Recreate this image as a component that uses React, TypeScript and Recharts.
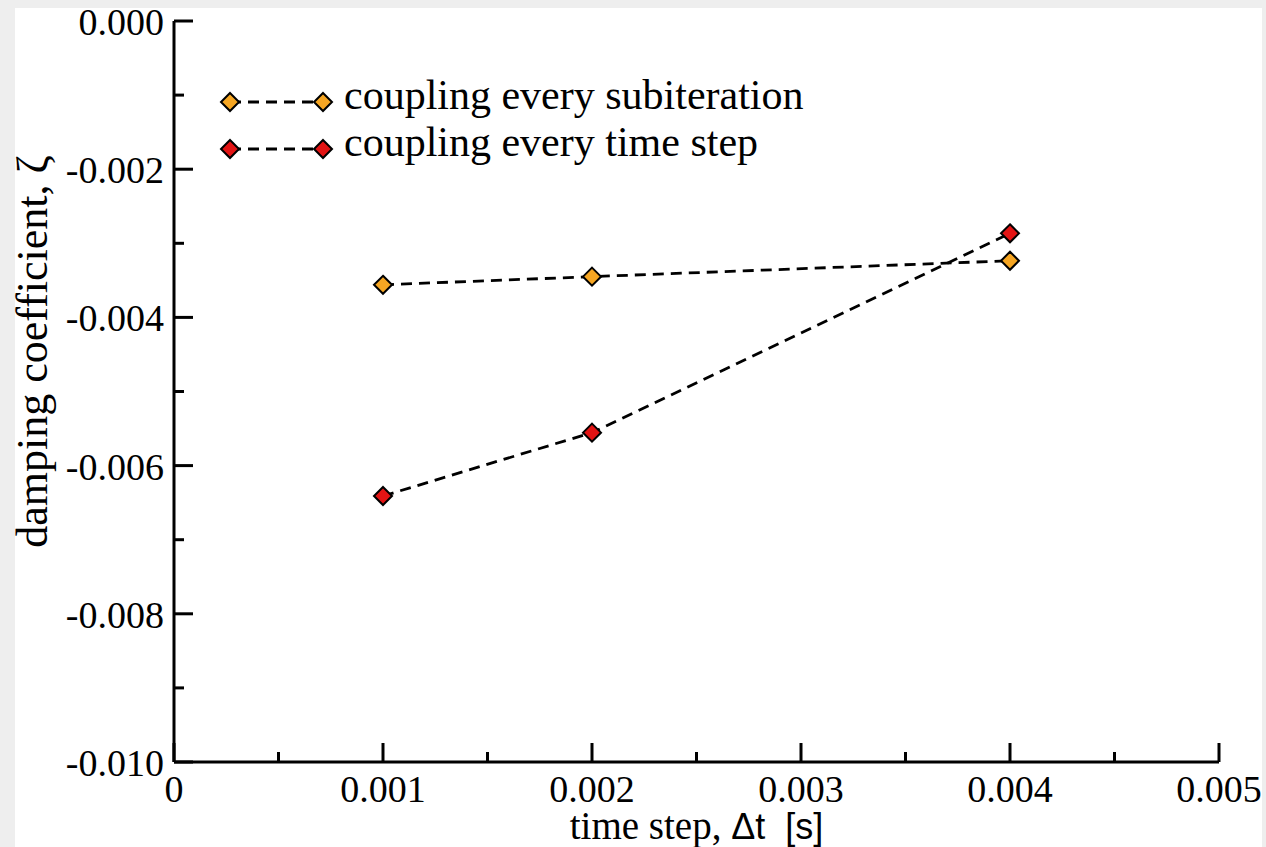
import { LineChart, Line, XAxis, YAxis, Legend } from "recharts";

const timeSteps = [0.001, 0.002, 0.004];
const subiterationZeta = [-0.00356, -0.00345, -0.003235];
const timeStepZeta = [-0.00641, -0.005555, -0.002865];

const xMajorTicks = [0, 0.001, 0.002, 0.003, 0.004, 0.005];
const xMinorTicks = [0.0005, 0.0015, 0.0025, 0.0035, 0.0045];
const xTickLabels = ["0", "0.001", "0.002", "0.003", "0.004", "0.005"];

const yMajorTicks = [0, -0.002, -0.004, -0.006, -0.008, -0.01];
const yMinorTicks = [-0.001, -0.003, -0.005, -0.007, -0.009];
const yTickLabels = ["0.000", "-0.002", "-0.004", "-0.006", "-0.008", "-0.010"];

const seriesNames = ["coupling every subiteration", "coupling every time step"];
const seriesColors = ["#f6a623", "#e31414"];

const data = timeSteps.map((t, i) => ({
  t,
  sub: subiterationZeta[i],
  step: timeStepZeta[i],
}));

const SERIF = '"Liberation Serif", "Times New Roman", serif';
const SANS = '"Liberation Sans", Arial, sans-serif';
const MAJOR = 19;
const MINOR = 10;
const AXIS_W = 3;

const majorIndex = (list: number[], v: number) =>
  list.findIndex((m) => Math.abs(m - v) < 1e-9);

function Diamond({ cx, cy, fill }: { cx: number; cy: number; fill: string }) {
  const r = 9;
  return (
    <path
      d={`M${cx},${cy - r}L${cx + r},${cy}L${cx},${cy + r}L${cx - r},${cy}Z`}
      fill={fill}
      stroke="#000"
      strokeWidth={2}
    />
  );
}

function BottomTick({ x, y, payload }: any) {
  const i = majorIndex(xMajorTicks, payload.value);
  const len = i >= 0 ? MAJOR : MINOR;
  return (
    <g>
      <line x1={x} y1={y} x2={x} y2={y - len} stroke="#000" strokeWidth={AXIS_W} />
      {i >= 0 && (
        <text x={x} y={y + 40} textAnchor="middle" fontFamily={SERIF} fontSize={38} fill="#000">
          {xTickLabels[i]}
        </text>
      )}
    </g>
  );
}

function TopTick({ x, y, payload }: any) {
  const len = majorIndex(xMajorTicks, payload.value) >= 0 ? MAJOR : MINOR;
  return <line x1={x} y1={y} x2={x} y2={y + len} stroke="#000" strokeWidth={AXIS_W} />;
}

function LeftTick({ x, y, payload }: any) {
  const i = majorIndex(yMajorTicks, payload.value);
  const len = i >= 0 ? MAJOR : MINOR;
  return (
    <g>
      <line x1={x} y1={y} x2={x + len} y2={y} stroke="#000" strokeWidth={AXIS_W} />
      {i >= 0 && (
        <text x={x - 10} y={y + 14} textAnchor="end" fontFamily={SERIF} fontSize={38} fill="#000">
          {yTickLabels[i]}
        </text>
      )}
    </g>
  );
}

function RightTick({ x, y, payload }: any) {
  const len = majorIndex(yMajorTicks, payload.value) >= 0 ? MAJOR : MINOR;
  return <line x1={x} y1={y} x2={x - len} y2={y} stroke="#000" strokeWidth={AXIS_W} />;
}

function XTitle({ viewBox }: any) {
  const cx = viewBox.x + viewBox.width / 2;
  return (
    <text x={cx} y={viewBox.y + 77} textAnchor="middle" fontSize={39} fill="#000" style={{ whiteSpace: "pre" }}>
      <tspan fontFamily={SERIF}>time step, </tspan>
      <tspan fontFamily={SANS} fontSize={36}>{"Δt\u00a0\u00a0[s]"}</tspan>
    </text>
  );
}

function YTitle({ viewBox }: any) {
  const x = 47;
  const y = viewBox.y + viewBox.height / 2 - 40;
  return (
    <text
      x={x}
      y={y}
      transform={`rotate(-90 ${x} ${y})`}
      textAnchor="middle"
      fontFamily={SERIF}
      fontSize={44}
      fill="#000"
    >
      damping coefficient, ζ
    </text>
  );
}

function LegendBox() {
  return (
    <svg width={620} height={130} style={{ display: "block", overflow: "visible" }}>
      {seriesNames.map((name, i) => {
        const cy = 42 + i * 47;
        return (
          <g key={name}>
            <line x1={12} y1={cy} x2={105} y2={cy} stroke="#000" strokeWidth={2.8} strokeDasharray="11 7" />
            <Diamond cx={12} cy={cy} fill={seriesColors[i]} />
            <Diamond cx={105} cy={cy} fill={seriesColors[i]} />
            <text x={126} y={cy + 7} fontFamily={SERIF} fontSize={42} fill="#000">
              {name}
            </text>
          </g>
        );
      })}
    </svg>
  );
}

export default function App() {
  const xTicks = [...xMajorTicks, ...xMinorTicks].sort((a, b) => a - b);
  const yTicks = [...yMajorTicks, ...yMinorTicks].sort((a, b) => a - b);
  const axisLine = { stroke: "#000", strokeWidth: AXIS_W };

  return (
    <div style={{ position: "fixed", left: 0, top: 0, width: 1266, height: 847, background: "#eeeeee" }}>
      <div style={{ position: "absolute", left: 15, top: 8, width: 1247, height: 839, background: "#fff" }} />
      <div style={{ position: "absolute", left: 0, top: 0 }}>
        <LineChart width={1266} height={847} data={data} margin={{ top: 21, right: 47, bottom: 5, left: 14 }}>
          <XAxis
            xAxisId="b"
            dataKey="t"
            type="number"
            domain={[0, 0.005]}
            allowDataOverflow
            ticks={xTicks}
            interval={0}
            height={80}
            tickSize={0}
            tickMargin={0}
            tickLine={false}
            axisLine={axisLine}
            tick={BottomTick}
            label={<XTitle />}
          />
          <XAxis
            xAxisId="t"
            orientation="top"
            type="number"
            domain={[0, 0.005]}
            allowDataOverflow
            ticks={xTicks}
            interval={0}
            height={0}
            tickSize={0}
            tickMargin={0}
            tickLine={false}
            axisLine={axisLine}
            tick={TopTick}
          />
          <YAxis
            yAxisId="l"
            type="number"
            domain={[-0.01, 0]}
            allowDataOverflow
            ticks={yTicks}
            interval={0}
            width={160}
            tickSize={0}
            tickMargin={0}
            tickLine={false}
            axisLine={axisLine}
            tick={LeftTick}
            label={<YTitle />}
          />
          <YAxis
            yAxisId="r"
            orientation="right"
            type="number"
            domain={[-0.01, 0]}
            allowDataOverflow
            ticks={yTicks}
            interval={0}
            width={0}
            tickSize={0}
            tickMargin={0}
            tickLine={false}
            axisLine={axisLine}
            tick={RightTick}
          />
          <Legend
            layout="vertical"
            align="center"
            verticalAlign="middle"
            content={<LegendBox />}
            wrapperStyle={{ left: 218, top: 60, width: 620, height: 130 }}
          />
          <Line
            xAxisId="b"
            yAxisId="l"
            dataKey="sub"
            name={seriesNames[0]}
            type="linear"
            stroke="#000"
            strokeWidth={2.8}
            strokeDasharray="11 7"
            isAnimationActive={false}
            dot={(p: any) => <Diamond key={`s${p.index}`} cx={p.cx} cy={p.cy} fill={seriesColors[0]} />}
          />
          <Line
            xAxisId="b"
            yAxisId="l"
            dataKey="step"
            name={seriesNames[1]}
            type="linear"
            stroke="#000"
            strokeWidth={2.8}
            strokeDasharray="11 7"
            isAnimationActive={false}
            dot={(p: any) => <Diamond key={`t${p.index}`} cx={p.cx} cy={p.cy} fill={seriesColors[1]} />}
          />
        </LineChart>
      </div>
    </div>
  );
}
